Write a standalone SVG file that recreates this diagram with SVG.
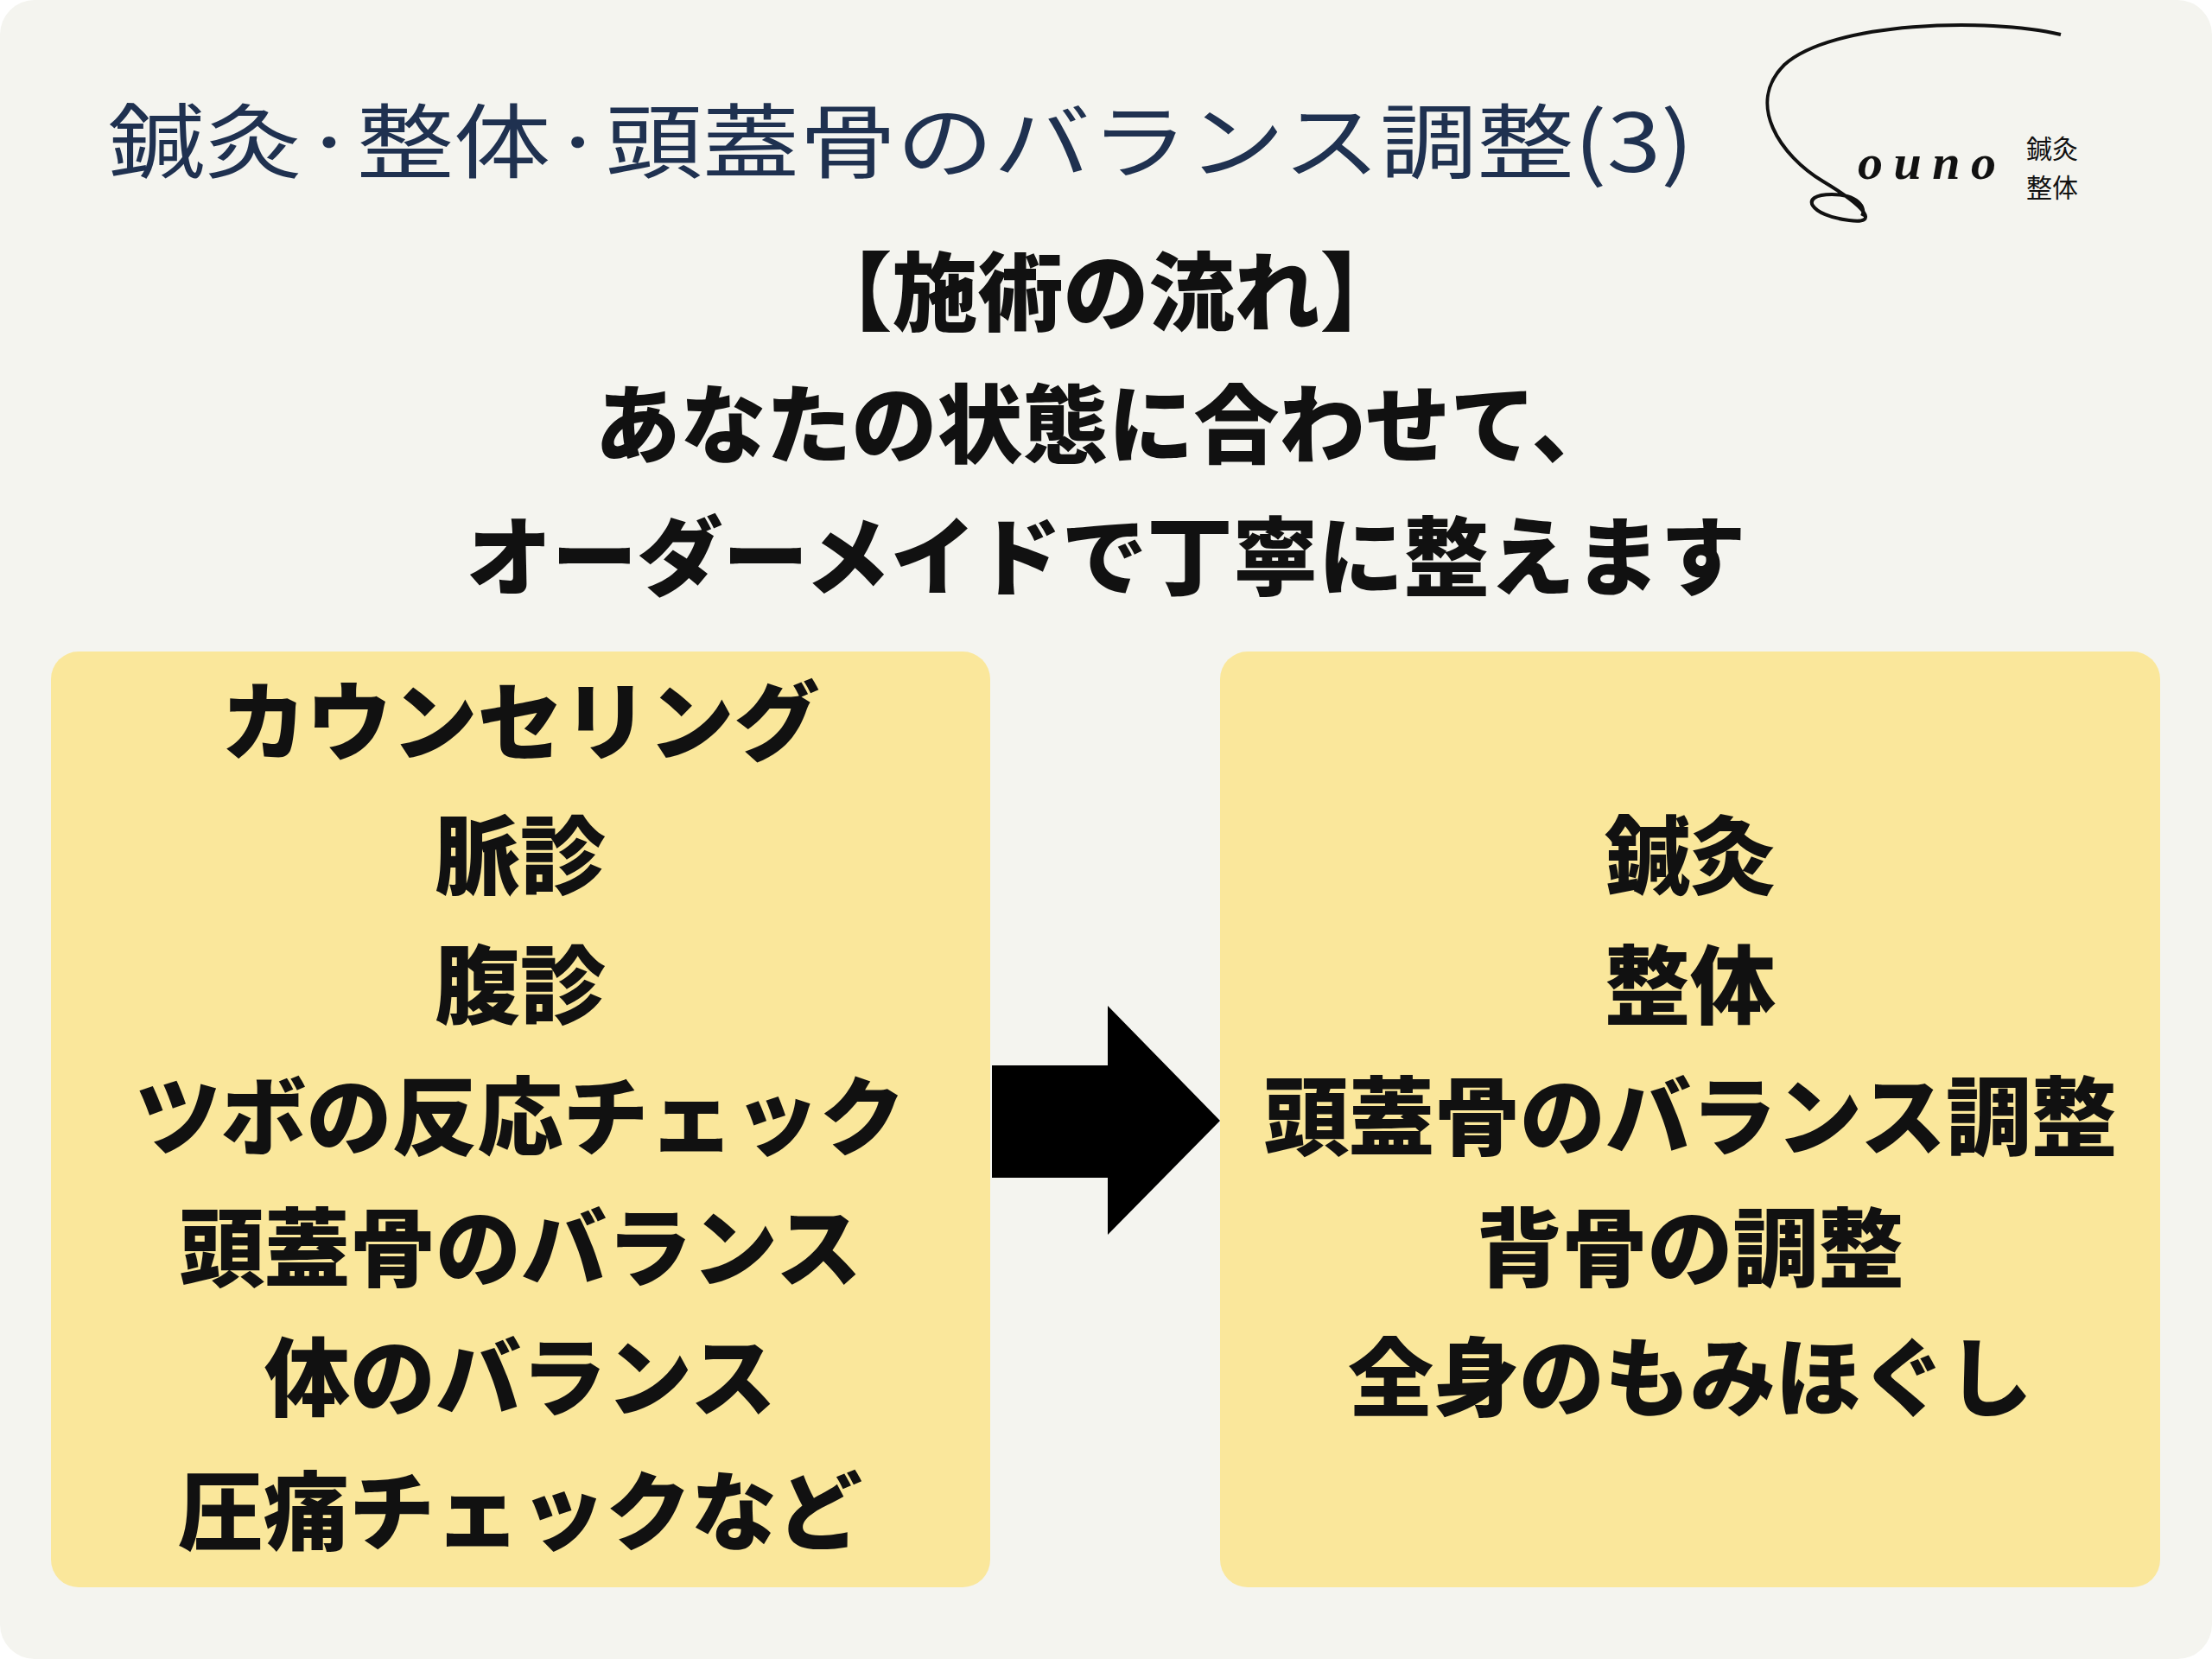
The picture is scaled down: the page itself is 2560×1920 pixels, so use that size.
<svg xmlns="http://www.w3.org/2000/svg" width="2560" height="1920" viewBox="0 0 2560 1920">
<style>
.t{font-family:"Noto Sans CJK JP",sans-serif;font-weight:900;fill:#111;text-anchor:middle;font-size:99px}
.h{font-family:"Noto Sans CJK JP",sans-serif;font-weight:400;fill:#1f3150;font-size:94px}
.box{fill:#fae79b}
</style>
<rect width="2560" height="1920" rx="40" fill="#f4f4ef"/>
<text class="h" x="125" y="199" textLength="1835" lengthAdjust="spacingAndGlyphs">鍼灸·整体·頭蓋骨のバランス調整(3)</text>
<g id="logo">
<path d="M2385 40 C2300 20 2120 25 2065 75 C2020 120 2060 180 2110 210 C2160 240 2175 260 2140 255 C2095 250 2080 225 2120 225 C2150 225 2160 240 2155 250" fill="none" stroke="#111" stroke-width="4"/>
<text x="2150" y="207" font-family="Liberation Serif,serif" font-style="italic" font-weight="bold" font-size="58" fill="#111" textLength="160">ouno</text>
<text x="2345" y="183" font-family="Noto Sans CJK JP,sans-serif" font-size="30" fill="#111">鍼灸</text>
<text x="2345" y="228" font-family="Noto Sans CJK JP,sans-serif" font-size="30" fill="#111">整体</text>
</g>
<g id="heading">
<text class="t" x="1280" y="375">【施術の流れ】</text>
<text class="t" x="1280" y="528">あなたの状態に合わせて、</text>
<text class="t" x="1280" y="681">オーダーメイドで丁寧に整えます</text>
</g>
<g id="left">
<rect class="box" x="59" y="754" width="1087" height="1083" rx="32"/>
<text class="t" x="602" y="872">カウンセリング</text>
<text class="t" x="602" y="1027">脈診</text>
<text class="t" x="602" y="1177">腹診</text>
<text class="t" x="602" y="1329">ツボの反応チェック</text>
<text class="t" x="602" y="1481">頭蓋骨のバランス</text>
<text class="t" x="602" y="1631">体のバランス</text>
<text class="t" x="602" y="1786">圧痛チェックなど</text>
</g>
<g id="right">
<rect class="box" x="1412" y="754" width="1088" height="1083" rx="32"/>
<text class="t" x="1956" y="1027">鍼灸</text>
<text class="t" x="1956" y="1177">整体</text>
<text class="t" x="1956" y="1329">頭蓋骨のバランス調整</text>
<text class="t" x="1956" y="1481">背骨の調整</text>
<text class="t" x="1956" y="1631">全身のもみほぐし</text>
</g>
<g id="connectors">
<path d="M1148 1233 H1282 V1164 L1412 1297 L1282 1429 V1363 H1148 Z" fill="#000"/>
</g>
</svg>
